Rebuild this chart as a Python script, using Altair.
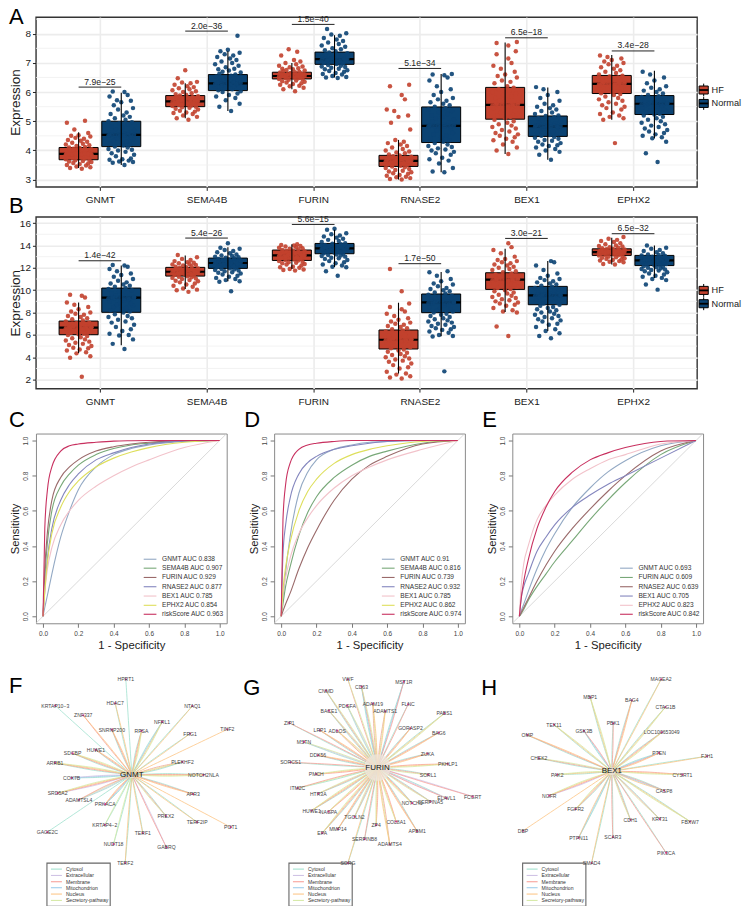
import altair as alt
import pandas as pd

FONT = "Liberation Sans"
HF_COL = "#C2412D"
N_COL = "#0B4373"

GENES = ["GNMT", "SEMA4B", "FURIN", "RNASE2", "BEX1", "EPHX2"]
GROUPS = ["HF", "Normal"]

# horizontal scatter of the dots around each box, read by eye
JITTER = [0.03, -0.08, 0.11, -0.02, 0.07, -0.11, 0.01, 0.09, -0.05, 0.12, -0.09, 0.04, -0.03, 0.1, -0.12, 0.06,
          -0.06, 0.02, 0.08, -0.1, 0.0, 0.05, -0.07, 0.11, -0.04, 0.09, -0.01, -0.11, 0.03, 0.07, -0.08, 0.12,
          -0.05, 0.01, -0.09, 0.06, -0.02, 0.1, -0.12, 0.04, -0.06, 0.08, 0.02, -0.1, 0.05, -0.03, 0.11, -0.07,
          0.0, 0.09, -0.04, -0.11, 0.06, 0.03, -0.08, 0.1]
CORE_JITTER = [-0.12, -0.09, -0.06, -0.03, 0.0, 0.03, 0.06, 0.09, 0.12]

# ---- panel A: q1, median, q3, low whisker, high whisker for HF then Normal
A_BOX = {
    "GNMT": [(3.68, 3.88, 4.1, 3.4, 4.62), (4.13, 4.53, 5.0, 3.5, 5.98)],
    "SEMA4B": [(5.5, 5.68, 5.88, 5.1, 6.3), (6.05, 6.3, 6.6, 5.35, 7.4)],
    "FURIN": [(6.45, 6.55, 6.68, 6.1, 7.0), (6.95, 7.13, 7.37, 6.5, 7.95)],
    "RNASE2": [(3.45, 3.64, 3.83, 3.0, 4.36), (4.27, 4.84, 5.49, 3.25, 6.62)],
    "BEX1": [(5.07, 5.56, 6.16, 3.88, 7.7), (4.48, 4.83, 5.18, 3.68, 6.16)],
    "EPHX2": [(5.95, 6.28, 6.57, 5.05, 7.27), (5.23, 5.6, 5.88, 4.42, 6.73)],
}
A_VALUES = {
    ("GNMT", "HF"): [3.37, 3.4, 3.42, 3.45, 3.48, 3.5, 3.53, 3.55, 3.57, 3.6, 3.62, 3.64, 3.66, 3.68, 3.7, 3.72, 3.74, 3.76, 3.78, 3.8, 3.82, 3.84, 3.86, 3.88, 3.9, 3.92, 3.94, 3.96, 3.98, 4.0, 4.02, 4.04, 4.06, 4.08, 4.1, 4.12, 4.15, 4.18, 4.2, 4.23, 4.26, 4.3, 4.33, 4.36, 4.4, 4.43, 4.48, 4.5, 4.52, 4.6, 4.72, 4.95, 5.02, 3.88, 3.87, 3.89, 3.88, 3.9, 3.86, 3.88, 3.89, 3.87],
    ("GNMT", "Normal"): [3.5, 3.58, 3.6, 3.62, 3.65, 3.68, 3.7, 3.72, 3.8, 3.85, 3.9, 3.95, 4.0, 4.02, 4.05, 4.1, 4.13, 4.17, 4.2, 4.24, 4.27, 4.3, 4.33, 4.38, 4.42, 4.45, 4.5, 4.53, 4.56, 4.6, 4.65, 4.7, 4.73, 4.78, 4.83, 4.88, 4.92, 4.97, 5.0, 5.05, 5.1, 5.15, 5.2, 5.25, 5.3, 5.4, 5.45, 5.55, 5.65, 5.7, 5.72, 5.85, 5.9, 6.0, 6.02],
    ("SEMA4B", "HF"): [5.05, 5.1, 5.15, 5.2, 5.25, 5.28, 5.3, 5.33, 5.36, 5.4, 5.43, 5.46, 5.48, 5.5, 5.52, 5.54, 5.56, 5.58, 5.6, 5.62, 5.64, 5.66, 5.68, 5.7, 5.72, 5.74, 5.76, 5.78, 5.8, 5.82, 5.84, 5.86, 5.88, 5.9, 5.93, 5.96, 6.0, 6.03, 6.06, 6.1, 6.13, 6.17, 6.2, 6.25, 6.3, 6.33, 6.35, 6.47, 6.75],
    ("SEMA4B", "Normal"): [5.35, 5.5, 5.6, 5.72, 5.8, 5.85, 5.9, 5.95, 6.0, 6.03, 6.06, 6.1, 6.12, 6.15, 6.18, 6.2, 6.22, 6.25, 6.28, 6.3, 6.32, 6.35, 6.38, 6.4, 6.43, 6.46, 6.5, 6.53, 6.56, 6.6, 6.63, 6.67, 6.7, 6.74, 6.78, 6.8, 6.85, 6.9, 6.95, 7.0, 7.05, 7.1, 7.15, 7.2, 7.25, 7.3, 7.35, 7.4, 7.45, 7.93],
    ("FURIN", "HF"): [6.03, 6.1, 6.15, 6.2, 6.22, 6.25, 6.28, 6.3, 6.33, 6.35, 6.37, 6.4, 6.42, 6.44, 6.45, 6.47, 6.48, 6.5, 6.52, 6.53, 6.55, 6.56, 6.58, 6.6, 6.61, 6.63, 6.65, 6.67, 6.68, 6.7, 6.72, 6.74, 6.76, 6.78, 6.8, 6.82, 6.85, 6.88, 6.9, 6.95, 7.0, 7.05, 7.1, 7.25, 7.38, 7.47],
    ("FURIN", "Normal"): [6.48, 6.5, 6.52, 6.55, 6.6, 6.62, 6.65, 6.7, 6.72, 6.75, 6.78, 6.8, 6.83, 6.86, 6.88, 6.9, 6.93, 6.96, 6.98, 7.0, 7.03, 7.06, 7.08, 7.1, 7.13, 7.16, 7.18, 7.2, 7.23, 7.26, 7.3, 7.33, 7.36, 7.4, 7.43, 7.47, 7.5, 7.55, 7.6, 7.65, 7.7, 7.75, 7.8, 7.85, 7.93, 7.97, 8.02, 8.16],
    ("RNASE2", "HF"): [3.0, 3.02, 3.05, 3.08, 3.1, 3.13, 3.16, 3.2, 3.22, 3.25, 3.28, 3.3, 3.33, 3.36, 3.4, 3.42, 3.45, 3.47, 3.5, 3.52, 3.54, 3.56, 3.58, 3.6, 3.62, 3.64, 3.66, 3.68, 3.7, 3.72, 3.75, 3.78, 3.8, 3.83, 3.86, 3.9, 3.93, 3.96, 4.0, 4.05, 4.1, 4.15, 4.2, 4.25, 4.3, 4.36, 4.72, 4.95, 5.15, 5.2, 5.35, 5.4, 5.75, 5.9, 6.2, 6.25],
    ("RNASE2", "Normal"): [3.25, 3.28, 3.4, 3.55, 3.65, 3.7, 3.75, 3.85, 3.9, 3.95, 4.0, 4.03, 4.07, 4.12, 4.15, 4.2, 4.25, 4.3, 4.35, 4.4, 4.45, 4.5, 4.55, 4.6, 4.68, 4.75, 4.8, 4.85, 4.9, 4.95, 5.0, 5.05, 5.1, 5.15, 5.2, 5.25, 5.3, 5.35, 5.4, 5.45, 5.5, 5.55, 5.6, 5.65, 5.7, 5.75, 5.8, 5.9, 6.0, 6.1, 6.2, 6.4, 6.5, 6.58, 6.6, 6.62],
    ("BEX1", "HF"): [3.88, 4.0, 4.1, 4.2, 4.3, 4.35, 4.4, 4.45, 4.5, 4.55, 4.6, 4.65, 4.7, 4.75, 4.8, 4.85, 4.9, 4.95, 5.0, 5.05, 5.1, 5.15, 5.2, 5.25, 5.3, 5.35, 5.4, 5.45, 5.5, 5.55, 5.6, 5.65, 5.7, 5.75, 5.8, 5.85, 5.9, 5.95, 6.0, 6.05, 6.1, 6.15, 6.2, 6.3, 6.35, 6.4, 6.5, 6.55, 6.6, 6.7, 6.8, 6.9, 7.0, 7.15, 7.3, 7.4, 7.6, 7.68, 7.72],
    ("BEX1", "Normal"): [3.68, 3.85, 3.95, 4.0, 4.05, 4.1, 4.15, 4.18, 4.2, 4.25, 4.3, 4.33, 4.36, 4.4, 4.43, 4.46, 4.5, 4.53, 4.56, 4.6, 4.63, 4.66, 4.7, 4.73, 4.76, 4.8, 4.83, 4.86, 4.9, 4.93, 4.96, 5.0, 5.03, 5.06, 5.1, 5.14, 5.18, 5.2, 5.25, 5.3, 5.35, 5.4, 5.45, 5.5, 5.55, 5.6, 5.7, 5.8, 5.9, 6.0, 6.1, 6.17],
    ("EPHX2", "HF"): [4.25, 5.05, 5.1, 5.15, 5.2, 5.25, 5.3, 5.4, 5.45, 5.5, 5.55, 5.6, 5.65, 5.7, 5.75, 5.8, 5.85, 5.9, 5.93, 5.96, 6.0, 6.03, 6.06, 6.1, 6.13, 6.16, 6.2, 6.23, 6.26, 6.3, 6.33, 6.36, 6.4, 6.43, 6.46, 6.5, 6.53, 6.56, 6.6, 6.65, 6.7, 6.75, 6.8, 6.85, 6.9, 6.95, 7.0, 7.05, 7.1, 7.15, 7.2, 7.25],
    ("EPHX2", "Normal"): [3.6, 3.9, 4.3, 4.42, 4.45, 4.5, 4.55, 4.6, 4.65, 4.7, 4.75, 4.8, 4.85, 4.9, 4.95, 5.0, 5.05, 5.1, 5.15, 5.2, 5.23, 5.26, 5.3, 5.33, 5.36, 5.4, 5.43, 5.46, 5.5, 5.53, 5.56, 5.6, 5.63, 5.66, 5.7, 5.73, 5.76, 5.8, 5.83, 5.86, 5.9, 5.95, 6.0, 6.05, 6.1, 6.15, 6.2, 6.3, 6.4, 6.5, 6.6, 6.7],
}
A_CORE = {
    ("GNMT", "HF"): [3.86, 3.9, 3.87, 3.89, 3.88, 3.86, 3.9, 3.88, 3.87],
    ("GNMT", "Normal"): [4.51, 4.55, 4.52, 4.54, 4.53, 4.51, 4.55, 4.52, 4.54],
    ("SEMA4B", "HF"): [5.66, 5.7, 5.67, 5.69, 5.68, 5.66, 5.7, 5.67, 5.69],
    ("SEMA4B", "Normal"): [6.28, 6.32, 6.29, 6.31, 6.3, 6.28, 6.32, 6.29, 6.31],
    ("FURIN", "HF"): [6.53, 6.57, 6.54, 6.56, 6.55, 6.53, 6.57, 6.54, 6.56],
    ("FURIN", "Normal"): [7.11, 7.15, 7.12, 7.14, 7.13, 7.11, 7.15, 7.12, 7.14],
    ("RNASE2", "HF"): [3.62, 3.66, 3.63, 3.65, 3.64, 3.62, 3.66, 3.63, 3.65],
    ("RNASE2", "Normal"): [4.82, 4.86, 4.83, 4.85, 4.84, 4.82, 4.86, 4.83, 4.85],
    ("BEX1", "HF"): [5.54, 5.58, 5.55, 5.57, 5.56, 5.54, 5.58, 5.55, 5.57],
    ("BEX1", "Normal"): [4.81, 4.85, 4.82, 4.84, 4.83, 4.81, 4.85, 4.82, 4.84],
    ("EPHX2", "HF"): [6.26, 6.3, 6.27, 6.29, 6.28, 6.26, 6.3, 6.27, 6.29],
    ("EPHX2", "Normal"): [5.58, 5.62, 5.59, 5.61, 5.6, 5.58, 5.62, 5.59, 5.61],
}
A_BRACKET = [6.17, 8.09, 8.32, 6.81, 7.86, 7.41]
A_P = ["7.9e\u221225", "2.0e\u221236", "1.5e\u221240", "5.1e\u221234", "6.5e\u221218", "3.4e\u221228"]

# ---- panel B
B_BOX = {
    "GNMT": [(6.02, 6.65, 7.24, 4.38, 8.9), (8.02, 9.33, 10.19, 5.07, 12.2)],
    "SEMA4B": [(11.26, 11.65, 12.04, 10.1, 13.1), (11.95, 12.43, 12.87, 10.8, 13.85)],
    "FURIN": [(12.66, 13.11, 13.59, 11.9, 14.1), (13.26, 13.74, 14.18, 12.07, 15.4)],
    "RNASE2": [(4.74, 5.57, 6.44, 2.54, 8.88), (7.99, 8.91, 9.66, 5.87, 11.62)],
    "BEX1": [(10.07, 10.94, 11.56, 8.05, 13.7), (8.7, 9.54, 10.34, 6.35, 12.6)],
    "EPHX2": [(13.11, 13.4, 13.7, 12.3, 14.7), (12.2, 12.66, 13.11, 11.1, 14.0)],
}
B_VALUES = {
    ("GNMT", "HF"): [2.25, 3.95, 4.1, 4.35, 4.45, 4.6, 4.7, 4.8, 4.85, 5.0, 5.1, 5.2, 5.3, 5.4, 5.5, 5.6, 5.7, 5.8, 5.9, 6.0, 6.05, 6.1, 6.2, 6.25, 6.3, 6.4, 6.45, 6.5, 6.55, 6.6, 6.65, 6.7, 6.8, 6.85, 6.9, 7.0, 7.05, 7.1, 7.2, 7.3, 7.4, 7.5, 7.6, 7.7, 7.8, 7.9, 8.0, 8.1, 8.3, 8.5, 8.7, 8.9, 9.35, 9.5, 9.6],
    ("GNMT", "Normal"): [4.75, 5.2, 5.6, 5.95, 6.0, 6.1, 6.35, 6.5, 6.7, 6.9, 7.1, 7.2, 7.35, 7.5, 7.6, 7.7, 7.85, 8.0, 8.1, 8.2, 8.3, 8.4, 8.5, 8.6, 8.7, 8.8, 8.9, 9.0, 9.1, 9.2, 9.3, 9.4, 9.5, 9.6, 9.7, 9.8, 9.9, 10.0, 10.1, 10.2, 10.3, 10.4, 10.5, 10.6, 10.7, 10.85, 11.0, 11.2, 11.35, 11.5, 11.7, 11.9, 12.1, 12.2, 12.25],
    ("SEMA4B", "HF"): [9.85, 10.0, 10.05, 10.15, 10.3, 10.4, 10.5, 10.6, 10.7, 10.8, 10.85, 10.9, 11.0, 11.05, 11.1, 11.15, 11.2, 11.25, 11.3, 11.35, 11.4, 11.45, 11.5, 11.55, 11.6, 11.65, 11.7, 11.75, 11.8, 11.85, 11.9, 11.95, 12.0, 12.05, 12.1, 12.15, 12.2, 12.25, 12.3, 12.35, 12.4, 12.45, 12.5, 12.6, 12.7, 12.8, 12.95, 13.15],
    ("SEMA4B", "Normal"): [9.9, 10.75, 10.8, 10.9, 11.0, 11.1, 11.2, 11.3, 11.4, 11.5, 11.55, 11.6, 11.7, 11.75, 11.8, 11.85, 11.9, 11.95, 12.0, 12.05, 12.1, 12.15, 12.2, 12.25, 12.3, 12.35, 12.4, 12.45, 12.5, 12.55, 12.6, 12.65, 12.7, 12.75, 12.8, 12.85, 12.9, 12.95, 13.0, 13.05, 13.1, 13.2, 13.3, 13.4, 13.5, 13.6, 13.7, 13.8, 14.2],
    ("FURIN", "HF"): [11.75, 11.8, 11.85, 11.9, 12.0, 12.05, 12.1, 12.2, 12.3, 12.35, 12.4, 12.45, 12.5, 12.55, 12.6, 12.65, 12.7, 12.75, 12.8, 12.85, 12.9, 12.95, 13.0, 13.05, 13.1, 13.15, 13.2, 13.25, 13.3, 13.35, 13.4, 13.45, 13.5, 13.55, 13.6, 13.65, 13.7, 13.75, 13.8, 13.85, 13.9, 13.95, 14.0, 14.05, 14.1],
    ("FURIN", "Normal"): [11.3, 11.7, 12.05, 12.1, 12.2, 12.3, 12.4, 12.5, 12.6, 12.7, 12.8, 12.85, 12.9, 13.0, 13.05, 13.1, 13.15, 13.2, 13.25, 13.3, 13.35, 13.4, 13.45, 13.5, 13.55, 13.6, 13.65, 13.7, 13.75, 13.8, 13.85, 13.9, 13.95, 14.0, 14.05, 14.1, 14.15, 14.2, 14.3, 14.4, 14.5, 14.6, 14.7, 14.8, 14.9, 15.0, 15.1, 15.4, 15.5],
    ("RNASE2", "HF"): [2.1, 2.2, 2.3, 2.45, 2.55, 2.7, 3.0, 3.1, 3.3, 3.45, 3.6, 3.7, 3.8, 3.9, 4.0, 4.1, 4.2, 4.3, 4.4, 4.5, 4.6, 4.7, 4.8, 4.9, 5.0, 5.1, 5.2, 5.3, 5.4, 5.5, 5.55, 5.6, 5.7, 5.8, 5.9, 6.0, 6.1, 6.2, 6.3, 6.4, 6.5, 6.6, 6.7, 6.8, 6.9, 7.0, 7.1, 7.2, 7.35, 7.5, 7.7, 7.9, 8.1, 8.3, 8.5, 8.8, 9.9, 11.9],
    ("RNASE2", "Normal"): [2.74, 5.85, 5.9, 6.0, 6.2, 6.3, 6.45, 6.5, 6.6, 6.7, 6.8, 6.9, 7.0, 7.1, 7.2, 7.3, 7.4, 7.5, 7.6, 7.7, 7.8, 7.9, 8.0, 8.1, 8.2, 8.3, 8.4, 8.5, 8.6, 8.7, 8.8, 8.9, 9.0, 9.1, 9.2, 9.3, 9.4, 9.5, 9.6, 9.7, 9.8, 9.9, 10.0, 10.1, 10.2, 10.35, 10.5, 10.6, 10.8, 11.0, 11.3, 11.6, 11.7],
    ("BEX1", "HF"): [5.9, 6.75, 8.0, 8.1, 8.2, 8.4, 8.6, 8.7, 8.8, 8.9, 9.0, 9.1, 9.2, 9.3, 9.4, 9.5, 9.6, 9.7, 9.8, 9.9, 10.0, 10.1, 10.2, 10.3, 10.4, 10.5, 10.6, 10.7, 10.8, 10.9, 11.0, 11.1, 11.2, 11.3, 11.4, 11.5, 11.6, 11.7, 11.8, 11.9, 12.0, 12.1, 12.2, 12.3, 12.4, 12.5, 12.6, 12.7, 12.8, 13.0, 13.3, 13.6, 13.85, 14.2],
    ("BEX1", "Normal"): [5.7, 5.9, 6.15, 6.35, 6.5, 6.7, 6.9, 7.0, 7.2, 7.3, 7.4, 7.5, 7.6, 7.7, 7.8, 7.9, 8.0, 8.1, 8.2, 8.3, 8.4, 8.5, 8.6, 8.7, 8.8, 8.9, 9.0, 9.1, 9.2, 9.3, 9.4, 9.5, 9.6, 9.7, 9.8, 9.9, 10.0, 10.1, 10.2, 10.3, 10.4, 10.5, 10.6, 10.7, 10.8, 10.9, 11.0, 11.1, 11.3, 11.5, 11.8, 12.2, 12.5, 12.6],
    ("EPHX2", "HF"): [12.3, 12.35, 12.5, 12.55, 12.6, 12.65, 12.7, 12.75, 12.8, 12.85, 12.9, 12.95, 13.0, 13.05, 13.1, 13.12, 13.15, 13.2, 13.22, 13.25, 13.3, 13.32, 13.35, 13.38, 13.4, 13.43, 13.46, 13.5, 13.53, 13.56, 13.6, 13.63, 13.66, 13.7, 13.75, 13.8, 13.85, 13.9, 13.95, 14.0, 14.1, 14.2, 14.3, 14.4, 14.5, 14.6, 14.75],
    ("EPHX2", "Normal"): [10.05, 10.5, 10.9, 11.0, 11.1, 11.2, 11.3, 11.4, 11.5, 11.6, 11.7, 11.75, 11.8, 11.85, 11.9, 11.95, 12.0, 12.05, 12.1, 12.15, 12.2, 12.25, 12.3, 12.35, 12.4, 12.45, 12.5, 12.55, 12.6, 12.65, 12.7, 12.75, 12.8, 12.85, 12.9, 12.95, 13.0, 13.05, 13.1, 13.15, 13.2, 13.3, 13.4, 13.5, 13.6, 13.7, 13.8, 14.0],
}
B_CORE = {
    ("GNMT", "HF"): [6.6, 6.7, 6.62, 6.68, 6.65, 6.6, 6.7, 6.62, 6.68],
    ("GNMT", "Normal"): [9.28, 9.38, 9.3, 9.36, 9.33, 9.28, 9.38, 9.3, 9.36],
    ("SEMA4B", "HF"): [11.6, 11.7, 11.62, 11.68, 11.65, 11.6, 11.7, 11.62, 11.68],
    ("SEMA4B", "Normal"): [12.38, 12.48, 12.4, 12.46, 12.43, 12.38, 12.48, 12.4, 12.46],
    ("FURIN", "HF"): [13.06, 13.16, 13.08, 13.14, 13.11, 13.06, 13.16, 13.08, 13.14],
    ("FURIN", "Normal"): [13.69, 13.79, 13.71, 13.77, 13.74, 13.69, 13.79, 13.71, 13.77],
    ("RNASE2", "HF"): [5.52, 5.62, 5.54, 5.6, 5.57, 5.52, 5.62, 5.54, 5.6],
    ("RNASE2", "Normal"): [8.86, 8.96, 8.88, 8.94, 8.91, 8.86, 8.96, 8.88, 8.94],
    ("BEX1", "HF"): [10.89, 10.99, 10.91, 10.97, 10.94, 10.89, 10.99, 10.91, 10.97],
    ("BEX1", "Normal"): [9.49, 9.59, 9.51, 9.57, 9.54, 9.49, 9.59, 9.51, 9.57],
    ("EPHX2", "HF"): [13.35, 13.45, 13.37, 13.43, 13.4, 13.35, 13.45, 13.37, 13.43],
    ("EPHX2", "Normal"): [12.61, 12.71, 12.63, 12.69, 12.66, 12.61, 12.71, 12.63, 12.69],
}
B_BRACKET = [12.63, 14.66, 15.88, 12.37, 14.63, 15.05]
B_P = ["1.4e\u221242", "5.4e\u221226", "5.6e\u221215", "1.7e\u221250", "3.0e\u221221", "6.5e\u221232"]

# ---- ROC curves: false-positive rates and sensitivities
FPR = [0, 0.01, 0.025, 0.05, 0.1, 0.15, 0.2, 0.3, 0.4, 0.5, 0.6, 0.8, 1]
C_NAMES = ["GNMT AUC 0.838", "SEMA4B AUC 0.907", "FURIN AUC 0.929", "RNASE2 AUC 0.877", "BEX1 AUC 0.785", "EPHX2 AUC 0.854", "riskScore AUC 0.963"]
C_TPR = [
    [0, 0.05, 0.12, 0.24, 0.45, 0.6, 0.72, 0.85, 0.92, 0.955, 0.975, 0.995, 1],
    [0, 0.22, 0.42, 0.6, 0.74, 0.81, 0.86, 0.92, 0.955, 0.975, 0.985, 0.998, 1],
    [0, 0.27, 0.48, 0.66, 0.79, 0.85, 0.89, 0.94, 0.965, 0.98, 0.99, 0.998, 1],
    [0, 0.15, 0.33, 0.5, 0.66, 0.75, 0.81, 0.89, 0.93, 0.96, 0.98, 0.997, 1],
    [0, 0.14, 0.27, 0.39, 0.52, 0.6, 0.66, 0.74, 0.8, 0.85, 0.89, 0.96, 1],
    [0, 0.14, 0.31, 0.47, 0.62, 0.71, 0.77, 0.85, 0.9, 0.935, 0.96, 0.99, 1],
    [0, 0.5, 0.72, 0.85, 0.94, 0.97, 0.98, 0.99, 0.997, 0.999, 1, 1, 1],
]
D_NAMES = ["GNMT AUC 0.91", "SEMA4B AUC 0.816", "FURIN AUC 0.739", "RNASE2 AUC 0.932", "BEX1 AUC 0.785", "EPHX2 AUC 0.862", "riskScore AUC 0.974"]
D_TPR = [
    [0, 0.1, 0.25, 0.45, 0.7, 0.82, 0.89, 0.95, 0.975, 0.99, 0.995, 1, 1],
    [0, 0.07, 0.17, 0.28, 0.46, 0.59, 0.68, 0.79, 0.86, 0.91, 0.94, 0.985, 1],
    [0, 0.03, 0.07, 0.13, 0.27, 0.39, 0.49, 0.66, 0.78, 0.86, 0.91, 0.98, 1],
    [0, 0.35, 0.52, 0.67, 0.81, 0.875, 0.91, 0.95, 0.97, 0.985, 0.995, 1, 1],
    [0, 0.13, 0.22, 0.33, 0.47, 0.56, 0.63, 0.73, 0.8, 0.85, 0.89, 0.95, 1],
    [0, 0.15, 0.28, 0.42, 0.6, 0.71, 0.78, 0.87, 0.92, 0.95, 0.97, 0.995, 1],
    [0, 0.55, 0.75, 0.87, 0.95, 0.975, 0.985, 0.995, 1, 1, 1, 1, 1],
]
E_NAMES = ["GNMT AUC 0.693", "FURIN AUC 0.609", "RNASE2 AUC 0.639", "BEX1 AUC 0.705", "EPHX2 AUC 0.823", "riskScore AUC 0.842"]
E_TPR = [
    [0, 0.03, 0.07, 0.14, 0.27, 0.38, 0.47, 0.62, 0.73, 0.82, 0.885, 0.97, 1],
    [0, 0.015, 0.04, 0.09, 0.17, 0.24, 0.31, 0.43, 0.55, 0.66, 0.76, 0.92, 1],
    [0, 0.02, 0.05, 0.1, 0.2, 0.29, 0.37, 0.5, 0.61, 0.71, 0.8, 0.94, 1],
    [0, 0.1, 0.17, 0.24, 0.37, 0.45, 0.52, 0.62, 0.69, 0.75, 0.8, 0.9, 1],
    [0, 0.17, 0.3, 0.4, 0.55, 0.63, 0.69, 0.78, 0.84, 0.89, 0.92, 0.98, 1],
    [0, 0.1, 0.2, 0.32, 0.5, 0.62, 0.71, 0.82, 0.89, 0.93, 0.96, 0.995, 1],
]
ROC_COLS_7 = ["#93A9C4", "#78A878", "#9A6A6A", "#8486BE", "#F2C2CA", "#DEDF5C", "#C8305F"]
ROC_COLS_6 = ["#93A9C4", "#78A878", "#9A6A6A", "#8486BE", "#F2C2CA", "#C8305F"]
ROC_LEG_Y = [0.3245, 0.2736, 0.2208, 0.168, 0.115, 0.0623, 0.0113]
ROC_TICKS = [0, 0.2, 0.4, 0.6, 0.8, 1.0]

# ---- networks: node label, x, y (picture position, three times enlarged) and compartments
COMPARTMENTS = ["Cytosol", "Extracellular", "Membrane", "Mitochondrion", "Nucleus", "Secretory-pathway"]
COMP_COLS = ["#9ADFCB", "#CDBFE3", "#F79A92", "#96C9EA", "#FCC27E", "#D3E8A0"]
CODE = {"C": 0, "E": 1, "M": 2, "T": 3, "N": 4, "S": 5}
F_NODES = [
    ("HPRT1", 375, 53, "C"), ("HDAC7", 343, 125, "CN"), ("KRTAP10\u22123", 163, 132, "C"), ("ZNF337", 247, 161, "MN"),
    ("SNRNP200", 333, 204, "CMN"), ("RPSA", 422, 208, "CMNS"), ("NFRL1", 484, 181, "CTNS"), ("NTAQ1", 575, 133, "CN"),
    ("TINF2", 680, 203, "N"), ("FRG1", 568, 216, "CN"), ("PLEKHF2", 545, 301, "MSNC"), ("NOTCH2NLA", 608, 340, "CMNS"),
    ("APR3", 577, 398, "CMN"), ("PREX2", 495, 463, "CMS"), ("TERF2IP", 589, 482, "CN"), ("POT1", 690, 497, "N"),
    ("GABRQ", 497, 558, "EM"), ("TERF1", 426, 515, "CN"), ("TERF2", 373, 605, "CN"), ("NUDT18", 338, 548, "CS"),
    ("KRTAP4\u22122", 312, 490, "CS"), ("GAGE2C", 139, 512, "C"), ("PRKACA", 313, 428, "CTMN"), ("ADAMTSL4", 234, 415, "CESM"),
    ("SRD5A2", 170, 395, "EMNS"), ("COX7B", 212, 349, "CTE"), ("ARRB1", 162, 304, "CMNS"), ("SDCBP", 215, 275, "CMNS"),
    ("HUWE1", 285, 265, "CMN"),
]
G_NODES = [
    ("VWF", 322, 53, "MS"), ("CD63", 363, 75, "CTMS"), ("MST1R", 490, 60, "CTM"), ("CNMD", 256, 87, "CMS"),
    ("ADAM19", 397, 126, "MSN"), ("PDGFA", 320, 132, "CES"), ("FLNC", 503, 128, "CM"), ("ADAMTS1", 434, 149, "MSN"),
    ("BACE1", 265, 147, "CMS"), ("PABS1", 612, 155, "CNS"), ("GORASP2", 510, 200, "CMN"), ("BAG6", 595, 213, "CMN"),
    ("ZIP1", 146, 184, "CM"), ("LRP1", 238, 206, "CMN"), ("ADLOS", 290, 207, "MSN"), ("MSTN", 190, 241, "CES"),
    ("DDX56", 232, 281, "CMN"), ("ZUKA", 561, 276, "CMN"), ("PKHLP1", 622, 307, "MNS"), ("SORCS1", 150, 302, "CM"),
    ("SORL1", 563, 339, "CMS"), ("PMCH", 227, 338, "MNS"), ("ITM2C", 171, 380, "CSM"), ("HTR3A", 233, 396, "CMS"),
    ("FCGRT", 697, 405, "EM"), ("ELAVL1", 618, 410, "CEM"), ("SERPINA5", 570, 420, "CMS"), ("NOTCH1", 515, 425, "CMNS"),
    ("COL8A1", 467, 480, "MNS"), ("HUWE1", 213, 447, "CMNS"), ("NAGPA", 264, 450, "MNS"), ("TGOLN2", 342, 466, "CMS"),
    ("MMP14", 292, 503, "CMN"), ("EPA", 245, 515, "CMNS"), ("ZP4", 407, 491, "MNS"), ("SERPINB8", 372, 533, "CM"),
    ("ADAMTS4", 448, 549, "MSN"), ("APBM1", 530, 509, "CMN"), ("SORG", 322, 605, "CN"),
]
H_NODES = [
    ("MAGEA2", 513, 53, "CN"), ("MBP1", 300, 107, "CNS"), ("BAG4", 425, 116, "CMN"), ("CTAG1B", 526, 136, "CNS"),
    ("PBK1", 369, 185, "CM"), ("TEX11", 191, 189, "CNS"), ("GSK3B", 281, 208, "CTM"), ("OMP", 111, 220, "CMN"),
    ("LOC100653049", 515, 212, "CMNS"), ("PTEN", 507, 274, "CTMN"), ("FJH1", 651, 284, "CN"), ("CHEK2", 146, 290, "CMS"),
    ("PAK2", 201, 339, "CNS"), ("CYSRT1", 577, 339, "MNS"), ("CASP8", 522, 387, "CMTN"), ("NGFR", 177, 402, "EMNS"),
    ("FGFR2", 256, 443, "CMNS"), ("KRT31", 509, 473, "CMS"), ("CDH1", 421, 475, "CMS"), ("FBXW7", 600, 480, "CNS"),
    ("DBP", 98, 508, "N"), ("PTPN11", 265, 529, "CTN"), ("SCAR3", 368, 527, "CM"), ("PIK3CA", 528, 574, "CM"),
    ("SMAD4", 304, 605, "CN"),
]

AX_TEXT = "#1a1a1a"


def box_panel(box, values, core, y_domain, y_major, y_minor, bracket, pvals, leg_y, key_h, letter, letter_y, w=662, h=170):
    sx = alt.Scale(domain=[0.4, 6.6], nice=False, zero=False)
    sy = alt.Scale(domain=y_domain, nice=False, zero=False)
    axx = alt.Axis(values=[1, 2, 3, 4, 5, 6], title=None, labelExpr="['GNMT','SEMA4B','FURIN','RNASE2','BEX1','EPHX2'][datum.value-1]",
                   grid=True, gridColor="#ececec", gridWidth=1.6, domain=False, tickColor="#222", tickSize=3.5,
                   labelFontSize=10, labelColor=AX_TEXT, labelPadding=4, labelFont=FONT)
    axy = alt.Axis(values=y_major, title="Expression", titleFontSize=13.5, titleFontWeight="normal", titleFont=FONT,
                   titleColor=AX_TEXT, grid=True, gridColor="#ececec", gridWidth=1.6, domain=False, tickColor="#222",
                   tickSize=3.5, labelFontSize=10, labelColor=AX_TEXT, labelPadding=2, labelFont=FONT,
                   titleX=-16, titleBaseline="alphabetic", titleAlign="center")
    boxes, pts = [], []
    for gi, gene in enumerate(GENES, start=1):
        for si, grp in enumerate(GROUPS):
            off = -0.2 if si == 0 else 0.2
            q1, med, q3, lo, hi = box[gene][si]
            boxes.append(dict(x=gi + off - 0.183, x2=gi + off + 0.183, c=gi + off, q1=q1, med=med, q3=q3, lo=lo, hi=hi, g=grp))
            for j, v in enumerate(values[(gene, grp)]):
                pts.append(dict(x=gi + off + JITTER[j % len(JITTER)], y=v, g=grp))
            for j, v in enumerate(core[(gene, grp)]):
                pts.append(dict(x=gi + off + CORE_JITTER[j], y=v, g=grp))
    bdf = pd.DataFrame(boxes)
    pdf = pd.DataFrame(pts)
    col = alt.Color("g:N", scale=alt.Scale(domain=GROUPS, range=[HF_COL, N_COL]), legend=None)
    X = lambda f: alt.X(f, scale=sx, axis=axx)
    Y = lambda f: alt.Y(f, scale=sy, axis=axy)
    minor = alt.Chart(pd.DataFrame({"y": y_minor})).mark_rule(color="#f0f0f0", strokeWidth=0.8).encode(y=Y("y:Q"))
    rect = alt.Chart(bdf).mark_rect(stroke="black", strokeWidth=1).encode(x=X("x:Q"), x2="x2:Q", y=Y("q1:Q"), y2="q3:Q", color=col)
    med = alt.Chart(bdf).mark_rule(color="black", strokeWidth=2.2).encode(x=X("x:Q"), x2="x2:Q", y=Y("med:Q"))
    whisk = alt.Chart(bdf).mark_rule(color="black", strokeWidth=1.1).encode(x=X("c:Q"), y=Y("lo:Q"), y2="hi:Q")
    dots = alt.Chart(pdf).mark_circle(size=20, opacity=0.9).encode(x=X("x:Q"), y=Y("y:Q"), color=col)
    brdf = pd.DataFrame({"x": [i + 0.8 for i in range(6)], "x2": [i + 1.2 for i in range(6)], "c": [i + 1 for i in range(6)], "y": bracket, "t": pvals})
    br = alt.Chart(brdf).mark_rule(color="#222", strokeWidth=1).encode(x=X("x:Q"), x2="x2:Q", y=Y("y:Q"))
    brt = alt.Chart(brdf).mark_text(fontSize=8.6, font=FONT, color="#222", baseline="bottom", dy=-0.5).encode(x=X("c:Q"), y=Y("y:Q"), text="t:N")
    # hand-built legend keys, kept inside the 734px the page leaves for the drawing
    lx = 6.662
    ldf = pd.DataFrame({"g": GROUPS, "y": leg_y, "y0": [v - key_h for v in leg_y], "y1": [v + key_h for v in leg_y],
                        "w0": [v - key_h * 1.6 for v in leg_y], "w1": [v + key_h * 1.6 for v in leg_y],
                        "x": [lx - 0.043] * 2, "x2": [lx + 0.043] * 2, "c": [lx] * 2, "t": [6.736] * 2})
    lw = alt.Chart(ldf).mark_rule(color="black", strokeWidth=1).encode(x=X("c:Q"), y=Y("w0:Q"), y2="w1:Q")
    lr = alt.Chart(ldf).mark_rect(stroke="black", strokeWidth=1).encode(x=X("x:Q"), x2="x2:Q", y=Y("y0:Q"), y2="y1:Q", color=col)
    lm = alt.Chart(ldf).mark_rule(color="black", strokeWidth=1.8).encode(x=X("x:Q"), x2="x2:Q", y=Y("y:Q"))
    lt = alt.Chart(ldf).mark_text(fontSize=9.2, font=FONT, align="left", color=AX_TEXT).encode(x=X("t:Q"), y=Y("y:Q"), text="g:N")
    let = alt.Chart(pd.DataFrame({"t": [letter]})).mark_text(fontSize=22, font=FONT, align="left", baseline="alphabetic", color="black").encode(x=alt.value(-27), y=alt.value(letter_y), text="t:N")
    return alt.layer(minor, rect, med, dots, whisk, br, brt, lw, lr, lm, lt, let).properties(
        width=w, height=h, view=alt.ViewBackground(stroke="#333333", strokeWidth=1.4))


def roc_panel(names, tpr, cols, letter, letter_x, w=191, h=190):
    rows = []
    for n, t in zip(names, tpr):
        for f, v in zip(FPR, t):
            rows.append(dict(x=f, y=v, n=n))
    df = pd.DataFrame(rows)
    sx = alt.Scale(domain=[-0.04, 1.04], nice=False, zero=False)
    sy = alt.Scale(domain=[-0.04, 1.04], nice=False, zero=False)
    ax = alt.Axis(values=ROC_TICKS, format=".1f", title="1 - Specificity", grid=False, domain=False, tickColor="#777", tickSize=4,
                  labelFontSize=6.5, labelColor="#444", labelFont=FONT, labelPadding=3, titleFontSize=11.3, titleFontWeight="normal",
                  titleFont=FONT, titleColor=AX_TEXT, titlePadding=3)
    ay = alt.Axis(values=ROC_TICKS, format=".1f", title="Sensitivity", grid=False, domain=False, tickColor="#777", tickSize=4,
                  labelFontSize=6.5, labelColor="#444", labelFont=FONT, labelAngle=270, labelAlign="center", labelBaseline="bottom",
                  labelPadding=3, titleFontSize=11.3, titleFontWeight="normal", titleFont=FONT, titleColor=AX_TEXT,
                  titleX=-17, titleBaseline="alphabetic", titleAlign="center")
    color = alt.Color("n:N", scale=alt.Scale(domain=names, range=cols), legend=None)
    X = lambda f: alt.X(f, scale=sx, axis=ax)
    Y = lambda f: alt.Y(f, scale=sy, axis=ay)
    diag = alt.Chart(pd.DataFrame({"x": [-0.04, 1.04], "y": [-0.04, 1.04]})).mark_line(color="#cfcfcf", strokeWidth=0.8).encode(x=X("x:Q"), y=Y("y:Q"))
    curves = alt.Chart(df).mark_line(strokeWidth=1.1, interpolate="monotone").encode(x=X("x:Q"), y=Y("y:Q"), color=color, detail="n:N")
    ly = ROC_LEG_Y[-len(names):]
    ldf = pd.DataFrame({"n": names, "y": ly, "x": [0.57] * len(names), "x2": [0.642] * len(names), "t": [0.674] * len(names)})
    ll = alt.Chart(ldf).mark_rule(strokeWidth=1.1).encode(x=X("x:Q"), x2="x2:Q", y=Y("y:Q"), color=color)
    lt = alt.Chart(ldf).mark_text(fontSize=6.6, font=FONT, align="left", color="#333").encode(x=X("t:Q"), y=Y("y:Q"), text="n:N")
    let = alt.Chart(pd.DataFrame({"t": [letter]})).mark_text(fontSize=22, font=FONT, align="left", baseline="alphabetic", color="black").encode(x=alt.value(letter_x), y=alt.value(-7), text="t:N")
    return alt.layer(diag, curves, ll, lt, let).properties(width=w, height=h, view=alt.ViewBackground(stroke="#8a8a8a", strokeWidth=1))


def net_panel(nodes, hub, hub_xy, hub_r, x_dom, letter, letter_xy, leg_x, w=207, h=245):
    sx = alt.Scale(domain=x_dom, nice=False, zero=False)
    sy = alt.Scale(domain=[-15, 720], nice=False, zero=False, reverse=True)
    X = lambda f: alt.X(f, scale=sx, axis=None)
    Y = lambda f: alt.Y(f, scale=sy, axis=None)
    rows = []
    eid = 0
    hx, hy = hub_xy
    for label, nx, ny, comps in nodes:
        n = len(comps)
        dx, dy = nx - hx, ny - hy
        ln = (dx ** 2 + dy ** 2) ** 0.5
        px, py = -dy / ln, dx / ln
        for k, c in enumerate(comps):
            bow = (k - (n - 1) / 2) * 2.6
            name = COMPARTMENTS[CODE[c]]
            rows.append(dict(e=eid, o=0, x=hx, y=hy, c=name))
            rows.append(dict(e=eid, o=1, x=(hx + nx) / 2 + px * bow, y=(hy + ny) / 2 + py * bow, c=name))
            rows.append(dict(e=eid, o=2, x=nx, y=ny, c=name))
            eid += 1
    edf = pd.DataFrame(rows)
    color = alt.Color("c:N", scale=alt.Scale(domain=COMPARTMENTS, range=COMP_COLS), legend=None)
    edges = alt.Chart(edf).mark_line(strokeWidth=0.8, interpolate="cardinal", opacity=0.95).encode(
        x=X("x:Q"), y=Y("y:Q"), color=color, detail="e:N", order="o:Q")
    hubc = alt.Chart(pd.DataFrame({"x": [hx], "y": [hy]})).mark_circle(size=hub_r, color="#EFE5DC", opacity=0.75).encode(x=X("x:Q"), y=Y("y:Q"))
    ndf = pd.DataFrame([dict(x=a[1], y=a[2], t=a[0]) for a in nodes])
    dots = alt.Chart(ndf).mark_circle(size=5, color="#D63E92", opacity=1).encode(x=X("x:Q"), y=Y("y:Q"))
    labs = alt.Chart(ndf).mark_text(fontSize=5.1, font=FONT, color="#444").encode(x=X("x:Q"), y=Y("y:Q"), text="t:N")
    hubt = alt.Chart(pd.DataFrame({"x": [hx], "y": [hy], "t": [hub]})).mark_text(fontSize=8, font=FONT, color="#111").encode(x=X("x:Q"), y=Y("y:Q"), text="t:N")
    bx = pd.DataFrame({"x": [leg_x], "x2": [leg_x + 190], "y": [605], "y2": [735]})
    box = alt.Chart(bx).mark_rect(fill="white", stroke="#666", strokeWidth=1.1).encode(x=X("x:Q"), x2="x2:Q", y=Y("y:Q"), y2="y2:Q")
    ld = pd.DataFrame({"c": COMPARTMENTS, "y": [623, 642, 661, 679, 698, 717], "x": [leg_x + 12] * 6, "x2": [leg_x + 45] * 6, "t": [leg_x + 57] * 6})
    ll = alt.Chart(ld).mark_rule(strokeWidth=1).encode(x=X("x:Q"), x2="x2:Q", y=Y("y:Q"), color=color)
    lt = alt.Chart(ld).mark_text(fontSize=5.1, font=FONT, align="left", color="#333").encode(x=X("t:Q"), y=Y("y:Q"), text="c:N")
    let = alt.Chart(pd.DataFrame({"x": [letter_xy[0]], "y": [letter_xy[1]], "t": [letter]})).mark_text(fontSize=22, font=FONT, align="left", baseline="alphabetic", color="black").encode(x=X("x:Q"), y=Y("y:Q"), text="t:N")
    return alt.layer(edges, box, ll, lt, hubc, dots, labs, hubt, let).properties(width=w, height=h, view=alt.ViewBackground(stroke="transparent"))


panel_a = box_panel(A_BOX, A_VALUES, A_CORE, [2.75, 8.57], [3, 4, 5, 6, 7, 8], [3.5, 4.5, 5.5, 6.5, 7.5, 8.5], A_BRACKET, A_P, [6.07, 5.61], 0.137, "A", 6.5, h=170)
panel_b = box_panel(B_BOX, B_VALUES, B_CORE, [1.2, 16.56], [2, 4, 6, 8, 10, 12, 14, 16], [3, 5, 7, 9, 11, 13, 15], B_BRACKET, B_P, [9.98, 8.79], 0.36, "B", -4, h=172)

panel_c = roc_panel(C_NAMES, C_TPR, ROC_COLS_7, "C", -27)
panel_d = roc_panel(D_NAMES, D_TPR, ROC_COLS_7, "D", -30)
panel_e = roc_panel(E_NAMES, E_TPR, ROC_COLS_6, "E", -30)
panel_f = net_panel(F_NODES, "GNMT", (393, 340), 40, [105, 726], "F", (24, 95), 138)
panel_g = net_panel(G_NODES, "FURIN", (411, 318), 700, [99, 720], "G", (8, 100), 145)
panel_h = net_panel(H_NODES, "BEX1", (365, 329), 60, [63, 684], "H", (-27, 100), 97)

top = alt.vconcat(panel_a, panel_b, spacing=30, bounds="flush").resolve_scale(color="independent")
roc = alt.hconcat(panel_c, panel_d, panel_e, spacing=47.5, bounds="flush").resolve_scale(color="independent")
net = alt.hconcat(panel_f, panel_g, panel_h, spacing=31, bounds="flush").resolve_scale(color="independent")
upper = alt.vconcat(top, roc, spacing=0, bounds="full").resolve_scale(color="independent")
chart = alt.vconcat(upper, net, spacing=3.5, bounds="full").resolve_scale(color="independent").properties(
    padding={"left": 0, "right": 0, "top": -4.5, "bottom": 0}).configure(font=FONT)

chart.save("out.html", embed_options={"renderer": "svg", "actions": False})
